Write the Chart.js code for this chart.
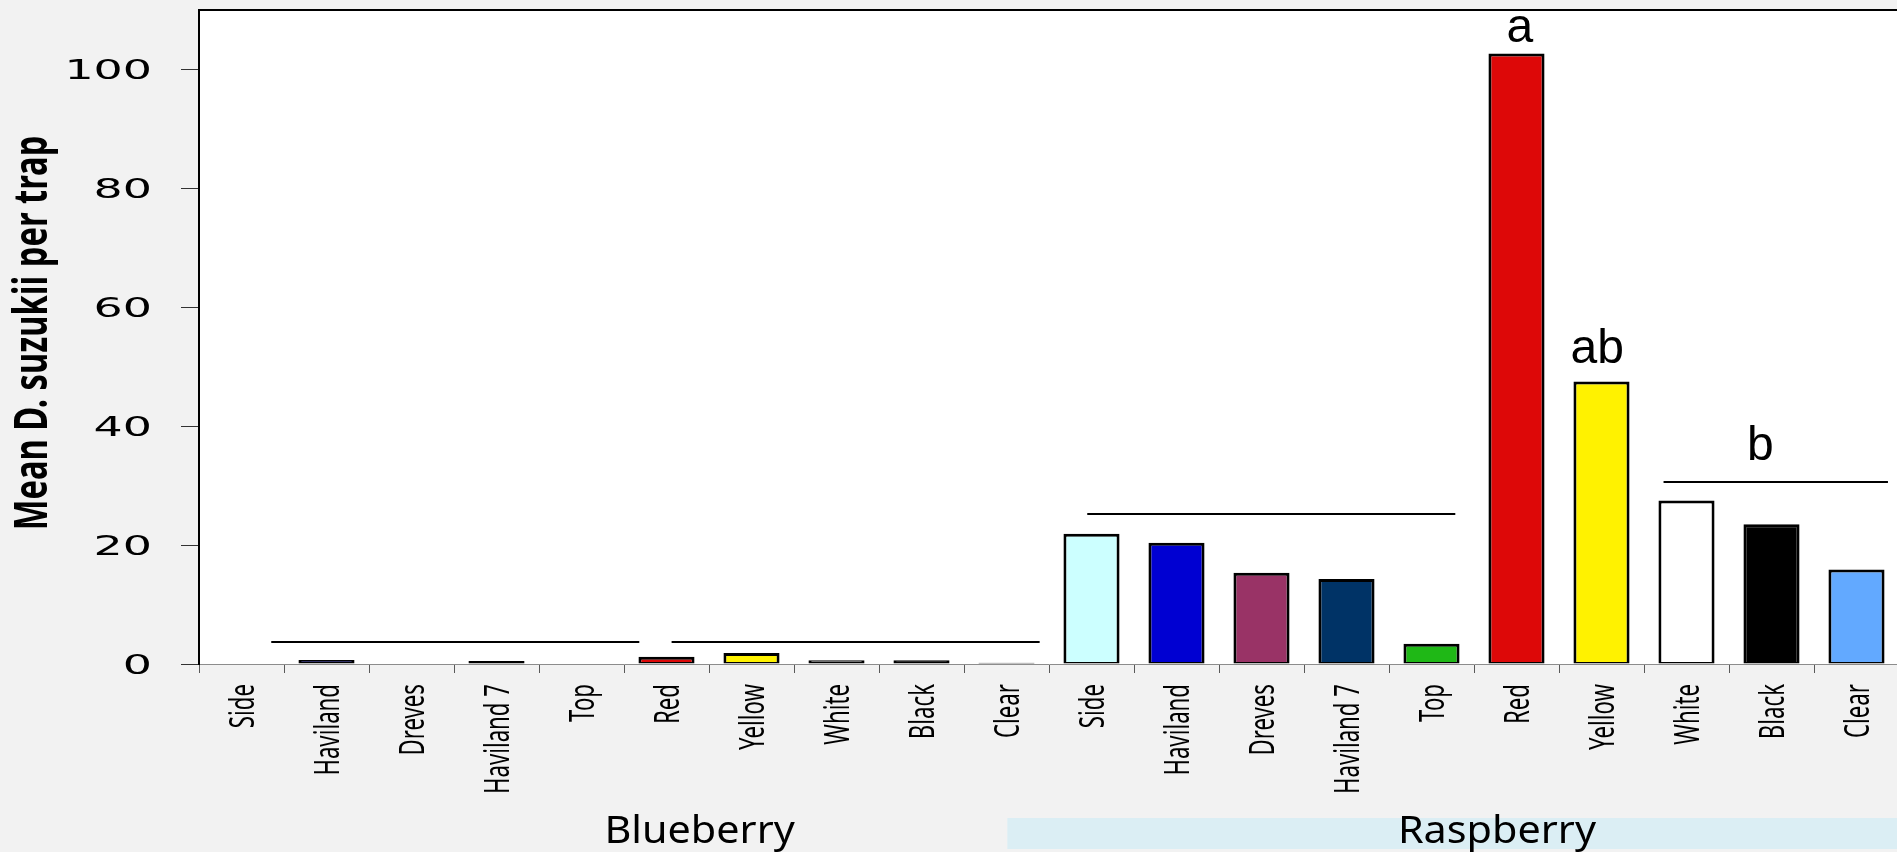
<!DOCTYPE html>
<html>
<head>
<meta charset="utf-8">
<script src="https://cdn.jsdelivr.net/npm/chart.js@4/dist/chart.umd.min.js"></script>
<style>
  html, body { margin: 0; padding: 0; background: #f2f2f2; overflow: hidden; }
  #wrap { position: relative; width: 1905px; height: 852px; }
  canvas { display: block; }
</style>
</head>
<body>
<div id="wrap"><canvas id="chart" width="1905" height="852"></canvas></div>
<script>
// Trap types tested in each crop
const trapTypes = ['Side', 'Haviland', 'Dreves', 'Haviland 7', 'Top', 'Red', 'Yellow', 'White', 'Black', 'Clear'];
const cropNames = ['Blueberry', 'Raspberry'];

// Mean D. suzukii captured per trap
const blueberryMeans = [0, 0.67, 0, 0.5, 0, 1.2, 1.85, 0.65, 0.65, 0.2];
const raspberryMeans = [21.9, 20.4, 15.35, 14.3, 3.4, 102.7, 47.5, 27.5, 23.5, 15.9];

// Fill colour of each trap type
const trapColors = ['#ccffff', '#0000d2', '#993366', '#003366', '#1fb816', '#dd0808', '#fff200', '#ffffff', '#000000', '#62a9ff'];

// Value axis ticks
const yTickValues = [0, 20, 40, 60, 80, 100];
const yTickLabels = ['0', '20', '40', '60', '80', '100'];

// Mean-separation bars (category index span, height in trap counts)
const groupFrom = [0.35, 5.06, 9.95, 16.73];
const groupTo = [4.68, 9.39, 14.28, 19.37];
const groupLevel = [3.75, 3.75, 25.3, 30.65];

// Significance letters (category index, baseline in trap counts)
const letterText = ['a', 'ab', 'b'];
const letterAt = [15.04, 15.95, 17.87];
const letterLevel = [104.6, 50.6, 34.3];

// Crop label centres along the category axis
const cropLabelAt = [5.39, 14.77];
const raspberryBandFrom = 9.01;

const categoryLabels = [...trapTypes, ...trapTypes];
const means = [...blueberryMeans, ...raspberryMeans];
const barColors = [...trapColors, ...trapColors];

function drawText(ctx, text, x, y, o) {
  ctx.save();
  ctx.translate(x, y);
  if (o.rotate) ctx.rotate(o.rotate);
  ctx.scale(o.sx || 1, 1);
  ctx.font = o.font;
  ctx.fillStyle = o.color || '#000';
  ctx.textAlign = o.align || 'left';
  ctx.textBaseline = o.baseline || 'alphabetic';
  ctx.fillText(text, 0, 0);
  ctx.restore();
}

const decor = {
  id: 'decor',
  beforeDraw(chart) {
    const { ctx, chartArea: a } = chart;
    ctx.save();
    ctx.fillStyle = '#f2f2f2';
    ctx.fillRect(0, 0, chart.width, chart.height);
    ctx.fillStyle = '#ffffff';
    ctx.fillRect(a.left, a.top, a.right - a.left, a.bottom - a.top);
    ctx.restore();
  },
  afterDatasetsDraw(chart) {
    const { ctx } = chart;
    const xs = chart.scales.x, ys = chart.scales.y;
    ctx.save();
    ctx.strokeStyle = '#000';
    ctx.lineWidth = 2;
    for (let i = 0; i < groupFrom.length; i++) {
      const y = Math.round(ys.getPixelForValue(groupLevel[i]));
      ctx.beginPath();
      ctx.moveTo(xs.getPixelForValue(groupFrom[i]), y);
      ctx.lineTo(xs.getPixelForValue(groupTo[i]), y);
      ctx.stroke();
    }
    ctx.restore();
    for (let i = 0; i < letterText.length; i++) {
      drawText(ctx, letterText[i], xs.getPixelForValue(letterAt[i]), ys.getPixelForValue(letterLevel[i]),
        { font: '48px "Liberation Sans", Arial, sans-serif', align: 'center' });
    }
  },
  afterDraw(chart) {
    const { ctx, chartArea: a } = chart;
    const xs = chart.scales.x, ys = chart.scales.y;

    // top frame line
    ctx.save();
    ctx.strokeStyle = '#000';
    ctx.lineWidth = 2;
    ctx.beginPath();
    ctx.moveTo(a.left - 1, a.top);
    ctx.lineTo(chart.width, a.top);
    ctx.stroke();
    ctx.restore();

    // value axis tick labels
    yTickValues.forEach((v, i) => {
      drawText(ctx, yTickLabels[i], a.left - 47, ys.getPixelForValue(v) + 10,
        { font: '27px "DejaVu Sans", sans-serif', align: 'right', sx: 1.7 });
    });

    // value axis title
    drawText(ctx, 'Mean D. suzukii per trap', 47, (a.top + a.bottom) / 2 - 4,
      { font: 'bold 46px "Noto Sans", sans-serif', align: 'center', rotate: -Math.PI / 2, sx: 0.71 });

    // trap type labels, rotated
    categoryLabels.forEach((lab, i) => {
      drawText(ctx, lab, xs.getPixelForValue(i) + 12, a.bottom + 20,
        { font: '35px "Noto Sans", sans-serif', align: 'right', rotate: -Math.PI / 2, sx: 0.635 });
    });

    // raspberry band
    const bandX = xs.getPixelForValue(raspberryBandFrom);
    ctx.save();
    ctx.fillStyle = '#dbeef4';
    ctx.fillRect(bandX, a.bottom + 154, chart.width - bandX, 31);
    ctx.restore();

    // crop labels
    cropNames.forEach((name, i) => {
      drawText(ctx, name, xs.getPixelForValue(cropLabelAt[i]), a.bottom + 179,
        { font: '39px "Noto Sans", sans-serif', align: 'center', sx: 1.06 });
    });
  }
};

new Chart(document.getElementById('chart'), {
  type: 'bar',
  data: {
    labels: categoryLabels,
    datasets: [{
      label: 'Mean D. suzukii per trap',
      data: means,
      backgroundColor: barColors,
      borderColor: '#000000',
      borderWidth: { top: 3, left: 3, right: 3, bottom: 1.5 },
      borderSkipped: false,
      barPercentage: 0.66,
      categoryPercentage: 1
    }]
  },
  options: {
    responsive: false,
    animation: false,
    layout: { padding: { left: 0, top: 10, right: 6, bottom: 0 } },
    plugins: { legend: { display: false }, tooltip: { enabled: false }, title: { display: false } },
    scales: {
      x: {
        type: 'category',
        offset: true,
        grid: { offset: true, drawOnChartArea: false, drawTicks: true, tickLength: 9, color: '#595959', lineWidth: 1 },
        border: { display: true, color: '#8c8c8c', width: 1 },
        ticks: { display: false },
        afterFit(s) { s.height = 188; }
      },
      y: {
        min: 0,
        max: 110,
        grid: { drawOnChartArea: false, drawTicks: true, tickLength: 18, color: '#333333', lineWidth: 1 },
        border: { display: true, color: '#000000', width: 2 },
        ticks: { display: false, stepSize: 20 },
        afterBuildTicks(s) { s.ticks = yTickValues.map(v => ({ value: v })); },
        afterFit(s) { s.width = 199; }
      }
    }
  },
  plugins: [decor]
});
</script>
</body>
</html>
